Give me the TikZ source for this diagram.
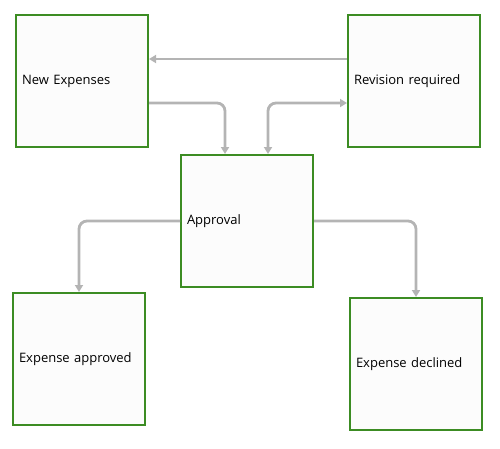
\documentclass[tikz,border=0pt]{standalone}
\usepackage{fontspec}
\setmainfont{Open Sans}
\usepackage{tikz}
\usetikzlibrary{arrows.meta,positioning}
\definecolor{etatvert}{HTML}{3C8C23}
\definecolor{liengris}{HTML}{B4B4B4}

\begin{document}
\begin{tikzpicture}[x=1pt,y=-1pt,etat/.style={draw=etatvert,line width=2pt,fill=white!99!black,minimum width=132pt,minimum height=132pt,text width=120pt,inner sep=6pt,align=left,font=\fontsize{13}{15}\selectfont},lien/.style={draw=liengris,line width=2.8pt,rounded corners=8pt,-{Triangle[length=7pt,width=8pt]}}]
\useasboundingbox (0,0) rectangle (500,448);
\node[etat] (nouveau) at (82,81) {New Expenses};
\node[etat] (revision) at (414,81) {Revision required};
\node[etat] (approbation) at (247,221) {Approval};
\node[etat] (approuve) at (79,359) {Expense approved};
\node[etat] (refuse) at (416,364) {Expense declined};
\draw[lien] ([yshift=22pt]revision.west)--([yshift=22pt]nouveau.east);
\draw[lien] ([yshift=-22pt]nouveau.east)-|([xshift=-22pt]approbation.north);
\draw[lien,{Triangle[length=7pt,width=8pt]}-{Triangle[length=7pt,width=8pt]}] ([xshift=21pt]approbation.north)|-([yshift=-22pt]revision.west);
\draw[lien] (approbation.west)-|(approuve.north);
\draw[lien] (approbation.east)-|(refuse.north);
\end{tikzpicture}
\end{document}
